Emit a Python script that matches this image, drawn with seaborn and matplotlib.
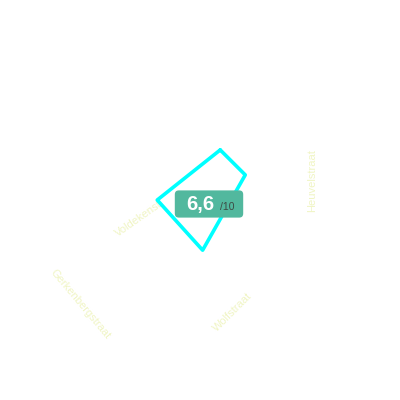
import numpy as np
import pandas as pd
import matplotlib
matplotlib.use("Agg")
import matplotlib.pyplot as plt
from matplotlib.patches import FancyBboxPatch
import seaborn as sb

# streets and scores (out of 10)
streets = ["Voldekenstraat", "Heuvelstraat", "Wolfstraat", "Gerkenbergstraat"]
scores = [7.2, 6.9, 6.7, 5.7]
max_score = 10

sb.set_theme(style="white")
plt.rcParams["font.family"] = ["Liberation Sans", "DejaVu Sans"]

# layout: axis directions of the (skewed) radar, degrees
axis_deg = [68, 29, -87, 180]
# label placement (angle, radius, rotation)
lab_deg = [194, 10, -74, -139]
lab_r = [7.3, 15.2, 15.6, 21.2]
lab_rot = [35, 90, 45, -50]

fig = plt.figure(figsize=(4, 4), dpi=100)
ax = fig.add_axes([0.3125, 0.3125, 0.375, 0.375], projection="polar")
ax.set_ylim(0, max_score)
ax.grid(False)
ax.set_xticks([])
ax.set_yticks([])
ax.spines["polar"].set_visible(False)
ax.patch.set_alpha(0)

# labels sit under the shape
for name, a, r, rot in zip(streets, lab_deg, lab_r, lab_rot):
    ax.text(np.deg2rad(a), r, name, rotation=rot, rotation_mode="anchor",
            ha="center", va="center", fontsize=8, color="#f0f5c4",
            clip_on=False, zorder=1)

df = pd.DataFrame({"theta": np.deg2rad(axis_deg + axis_deg[:1]),
                   "score": scores + scores[:1]})
ax.fill(df["theta"], df["score"], color="white", zorder=2)
sb.lineplot(data=df, x="theta", y="score", sort=False, estimator=None,
            ax=ax, color="#00ffff", linewidth=2.6, zorder=3)
ax.set_xlabel("")
ax.set_ylabel("")

# average badge
avg = np.mean(scores)
badge = FancyBboxPatch((0.437, 0.456), 0.171, 0.068,
                       boxstyle="round,pad=0,rounding_size=0.01",
                       transform=fig.transFigure, facecolor="#52b89e",
                       edgecolor="none", zorder=5)
fig.patches.append(badge)
fig.text(0.501, 0.488, "{:.1f}".format(avg).replace(".", ","),
         ha="center", va="center", fontsize=14.5, fontweight="bold",
         color="white", zorder=6)
fig.text(0.568, 0.483, "/{}".format(max_score), ha="center", va="center",
         fontsize=7.5, color="#3d4a44", zorder=6)

fig.savefig("out.png", dpi=100)
